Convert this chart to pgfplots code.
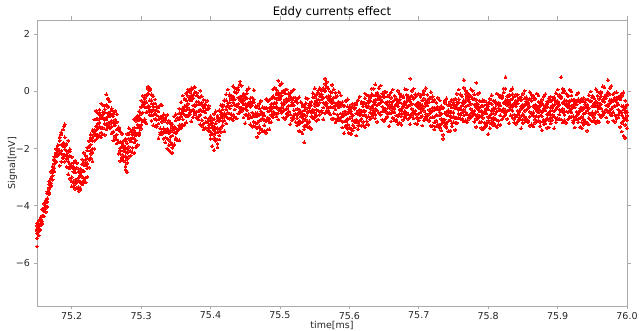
\documentclass[border=0pt]{standalone}
\usepackage{pgfplots}
\pgfplotsset{compat=1.18}
\usepackage{pgfplotstable}
\usepackage{fontspec}
\setmainfont{DejaVu Sans}
\definecolor{spine}{RGB}{170,170,170}

\pgfplotstableread{
x a b c d
75.1500 -4.81 -4.95 -4.69 -4.87
75.1525 -4.79 -4.62 -4.90 -4.71
75.1550 -4.48 -4.62 -4.68 -4.40
75.1575 -4.54 -4.34 -4.37 -4.62
75.1600 -4.18 -4.36 -4.09 -4.12
75.1625 -3.87 -3.81 -3.99 -4.07
75.1650 -3.73 -3.76 -3.51 -3.86
75.1675 -3.24 -3.52 -3.40 -3.36
75.1700 -3.20 -3.08 -3.03 -3.29
75.1725 -2.74 -2.62 -2.94 -2.84
75.1750 -2.68 -2.52 -2.40 -2.37
75.1775 -2.24 -2.15 -2.46 -2.19
75.1800 -2.11 -2.19 -2.01 -1.88
75.1825 -1.73 -2.16 -1.71 -2.18
75.1850 -2.18 -1.86 -2.08 -1.50
75.1875 -1.81 -2.32 -1.92 -2.21
75.1900 -2.02 -1.84 -2.22 -1.93
75.1925 -2.07 -2.36 -1.82 -2.20
75.1950 -2.44 -2.11 -2.66 -2.28
75.1975 -2.25 -2.53 -2.67 -2.09
75.2000 -2.99 -2.59 -2.64 -3.14
75.2025 -2.81 -3.17 -2.63 -2.70
75.2050 -2.83 -2.72 -3.09 -3.23
75.2075 -3.11 -3.17 -2.67 -3.36
75.2100 -2.79 -3.35 -3.11 -3.01
75.2125 -3.19 -2.95 -2.86 -3.38
75.2150 -2.78 -2.54 -3.17 -2.98
75.2175 -3.10 -2.79 -2.56 -2.49
75.2200 -2.58 -2.39 -3.02 -2.47
75.2225 -2.51 -2.68 -2.33 -2.06
75.2250 -1.93 -2.36 -1.91 -2.38
75.2275 -2.18 -1.86 -2.08 -1.50
75.2300 -1.61 -2.12 -1.72 -2.01
75.2325 -1.52 -1.34 -1.72 -1.43
75.2350 -1.22 -1.51 -0.97 -1.35
75.2375 -1.29 -0.96 -1.51 -1.13
75.2400 -0.80 -1.08 -1.22 -0.64
75.2425 -1.29 -0.89 -0.94 -1.44
75.2450 -0.91 -1.27 -0.73 -0.80
75.2475 -0.73 -0.62 -0.99 -1.13
75.2500 -0.91 -0.97 -0.47 -1.16
75.2525 -0.54 -1.10 -0.86 -0.76
75.2550 -1.09 -0.85 -0.76 -1.28
75.2575 -0.83 -0.59 -1.22 -1.03
75.2600 -1.40 -1.09 -0.86 -0.79
75.2625 -1.18 -0.99 -1.62 -1.07
75.2650 -1.51 -1.68 -1.33 -1.06
75.2675 -1.33 -1.76 -1.31 -1.78
75.2700 -2.08 -1.76 -1.98 -1.40
75.2725 -1.81 -2.32 -1.92 -2.21
75.2750 -2.07 -1.89 -2.27 -1.98
75.2775 -1.97 -2.26 -1.72 -2.10
75.2800 -2.14 -1.81 -2.36 -1.98
75.2825 -1.65 -1.93 -2.07 -1.49
75.2850 -2.09 -1.69 -1.74 -2.24
75.2875 -1.61 -1.97 -1.43 -1.50
75.2900 -1.38 -1.27 -1.64 -1.78
75.2925 -1.46 -1.52 -1.02 -1.71
75.2950 -0.94 -1.50 -1.26 -1.16
75.2975 -1.24 -1.00 -0.91 -1.43
75.3000 -0.78 -0.54 -1.17 -0.98
75.3025 -1.05 -0.74 -0.51 -0.44
75.3050 -0.53 -0.34 -0.97 -0.42
75.3075 -0.56 -0.73 -0.38 -0.11
75.3100 -0.08 -0.51 -0.06 -0.53
75.3125 -0.63 -0.31 -0.53 0.05
75.3150 -0.31 -0.82 -0.42 -0.71
75.3175 -0.62 -0.44 -0.82 -0.53
75.3200 -0.67 -0.96 -0.42 -0.80
75.3225 -0.99 -0.66 -1.21 -0.83
75.3250 -0.70 -0.98 -1.12 -0.54
75.3275 -1.29 -0.89 -0.94 -1.44
75.3300 -1.06 -1.42 -0.88 -0.95
75.3325 -1.03 -0.92 -1.29 -1.43
75.3350 -1.36 -1.42 -0.92 -1.61
75.3375 -1.09 -1.65 -1.41 -1.31
75.3400 -1.69 -1.45 -1.36 -1.88
75.3425 -1.38 -1.14 -1.77 -1.58
75.3450 -1.85 -1.54 -1.31 -1.24
75.3475 -1.43 -1.24 -1.87 -1.32
75.3500 -1.46 -1.63 -1.28 -1.01
75.3525 -0.93 -1.36 -0.91 -1.38
75.3550 -1.28 -0.96 -1.18 -0.60
75.3575 -0.76 -1.27 -0.87 -1.16
75.3600 -0.77 -0.59 -0.97 -0.68
75.3625 -0.52 -0.81 -0.27 -0.65
75.3650 -0.64 -0.31 -0.86 -0.48
75.3675 -0.15 -0.43 -0.57 0.01
75.3700 -0.64 -0.24 -0.29 -0.79
75.3725 -0.31 -0.67 -0.13 -0.20
75.3750 -0.23 -0.12 -0.49 -0.63
75.3775 -0.46 -0.52 -0.02 -0.71
75.3800 -0.14 -0.70 -0.46 -0.36
75.3825 -0.69 -0.45 -0.36 -0.88
75.3850 -0.43 -0.19 -0.82 -0.63
75.3875 -1.00 -0.69 -0.46 -0.39
75.3900 -0.68 -0.49 -1.12 -0.57
75.3925 -0.91 -1.08 -0.73 -0.46
75.3950 -0.63 -1.06 -0.61 -1.08
75.3975 -1.28 -0.96 -1.18 -0.60
75.4000 -1.01 -1.52 -1.12 -1.41
75.4025 -1.27 -1.09 -1.47 -1.18
75.4050 -1.22 -1.51 -0.97 -1.35
75.4075 -1.44 -1.11 -1.66 -1.28
75.4100 -1.00 -1.28 -1.42 -0.84
75.4125 -1.39 -0.99 -1.04 -1.54
75.4150 -0.91 -1.27 -0.73 -0.80
75.4175 -0.63 -0.52 -0.89 -1.03
75.4200 -0.76 -0.82 -0.32 -1.01
75.4225 -0.31 -0.87 -0.63 -0.53
75.4250 -0.74 -0.50 -0.41 -0.93
75.4275 -0.38 -0.14 -0.77 -0.58
75.4300 -0.80 -0.49 -0.26 -0.19
75.4325 -0.38 -0.19 -0.82 -0.27
75.4350 -0.46 -0.63 -0.28 -0.01
75.4375 -0.05 -0.48 -0.03 -0.50
75.4400 -0.53 -0.21 -0.43 0.15
75.4425 -0.18 -0.69 -0.29 -0.58
75.4450 -0.37 -0.19 -0.57 -0.28
75.4475 -0.32 -0.61 -0.07 -0.45
75.4500 -0.59 -0.26 -0.81 -0.43
75.4525 -0.23 -0.51 -0.65 -0.07
75.4550 -0.79 -0.39 -0.44 -0.94
75.4575 -0.54 -0.90 -0.36 -0.43
75.4600 -0.48 -0.37 -0.74 -0.88
75.4625 -0.81 -0.87 -0.37 -1.06
75.4650 -0.54 -1.10 -0.86 -0.76
75.4675 -1.09 -0.85 -0.76 -1.28
75.4700 -0.83 -0.59 -1.22 -1.03
75.4725 -1.30 -0.99 -0.76 -0.69
75.4750 -0.93 -0.74 -1.37 -0.82
75.4775 -1.01 -1.18 -0.83 -0.56
75.4800 -0.58 -1.01 -0.56 -1.03
75.4825 -1.01 -0.69 -0.91 -0.33
75.4850 -0.56 -1.07 -0.67 -0.96
75.4875 -0.62 -0.44 -0.82 -0.53
75.4900 -0.42 -0.71 -0.17 -0.55
75.4925 -0.56 -0.23 -0.78 -0.40
75.4950 -0.10 -0.38 -0.52 0.06
75.4975 -0.61 -0.21 -0.26 -0.76
75.5000 -0.26 -0.62 -0.08 -0.15
75.5025 -0.15 -0.04 -0.41 -0.55
75.5050 -0.41 -0.47 0.03 -0.66
75.5075 -0.07 -0.63 -0.39 -0.29
75.5100 -0.59 -0.35 -0.26 -0.78
75.5125 -0.30 -0.06 -0.69 -0.50
75.5150 -0.80 -0.49 -0.26 -0.19
75.5175 -0.48 -0.29 -0.92 -0.37
75.5200 -0.66 -0.83 -0.48 -0.21
75.5225 -0.35 -0.78 -0.33 -0.80
75.5250 -0.93 -0.61 -0.83 -0.25
75.5275 -0.64 -1.15 -0.75 -1.04
75.5300 -0.87 -0.69 -1.07 -0.78
75.5325 -0.77 -1.06 -0.52 -0.90
75.5350 -0.99 -0.66 -1.21 -0.83
75.5375 -0.57 -0.85 -0.99 -0.41
75.5400 -1.09 -0.69 -0.74 -1.24
75.5425 -0.68 -1.04 -0.50 -0.57
75.5450 -0.48 -0.37 -0.74 -0.88
75.5475 -0.64 -0.70 -0.20 -0.89
75.5500 -0.19 -0.75 -0.51 -0.41
75.5525 -0.64 -0.40 -0.31 -0.83
75.5550 -0.28 -0.04 -0.67 -0.48
75.5575 -0.70 -0.39 -0.16 -0.09
75.5600 -0.28 -0.09 -0.72 -0.17
75.5625 -0.39 -0.56 -0.21 0.06
75.5650 0.02 -0.41 0.04 -0.43
75.5675 -0.51 -0.19 -0.41 0.17
75.5700 -0.16 -0.67 -0.27 -0.56
75.5725 -0.34 -0.16 -0.54 -0.25
75.5750 -0.27 -0.56 -0.02 -0.40
75.5775 -0.54 -0.21 -0.76 -0.38
75.5800 -0.20 -0.48 -0.62 -0.04
75.5825 -0.81 -0.41 -0.46 -0.96
75.5850 -0.56 -0.92 -0.38 -0.45
75.5875 -0.51 -0.40 -0.77 -0.91
75.5900 -0.81 -0.87 -0.37 -1.06
75.5925 -0.49 -1.05 -0.81 -0.71
75.5950 -1.04 -0.80 -0.71 -1.23
75.5975 -0.76 -0.52 -1.15 -0.96
75.6000 -1.25 -0.94 -0.71 -0.64
75.6025 -0.88 -0.69 -1.32 -0.77
75.6050 -1.01 -1.18 -0.83 -0.56
75.6075 -0.61 -1.04 -0.59 -1.06
75.6100 -1.08 -0.76 -0.98 -0.40
75.6125 -0.68 -1.19 -0.79 -1.08
75.6150 -0.82 -0.64 -1.02 -0.73
75.6175 -0.67 -0.96 -0.42 -0.80
75.6200 -0.84 -0.51 -1.06 -0.68
75.6225 -0.40 -0.68 -0.82 -0.24
75.6250 -0.89 -0.49 -0.54 -1.04
75.6275 -0.51 -0.87 -0.33 -0.40
75.6300 -0.33 -0.22 -0.59 -0.73
75.6325 -0.54 -0.60 -0.10 -0.79
75.6350 -0.14 -0.70 -0.46 -0.36
75.6375 -0.61 -0.37 -0.28 -0.80
75.6400 -0.28 -0.04 -0.67 -0.48
75.6425 -0.75 -0.44 -0.21 -0.14
75.6450 -0.38 -0.19 -0.82 -0.27
75.6475 -0.53 -0.70 -0.35 -0.08
75.6500 -0.18 -0.61 -0.16 -0.63
75.6525 -0.71 -0.39 -0.61 -0.03
75.6550 -0.36 -0.87 -0.47 -0.76
75.6575 -0.54 -0.36 -0.74 -0.45
75.6600 -0.47 -0.76 -0.22 -0.60
75.6625 -0.69 -0.36 -0.91 -0.53
75.6650 -0.30 -0.58 -0.72 -0.14
75.6675 -0.84 -0.44 -0.49 -0.99
75.6700 -0.51 -0.87 -0.33 -0.40
75.6725 -0.38 -0.27 -0.64 -0.78
75.6750 -0.61 -0.67 -0.17 -0.86
75.6775 -0.21 -0.77 -0.53 -0.43
75.6800 -0.69 -0.45 -0.36 -0.88
75.6825 -0.36 -0.12 -0.75 -0.56
75.6850 -0.80 -0.49 -0.26 -0.19
75.6875 -0.46 -0.27 -0.90 -0.35
75.6900 -0.61 -0.78 -0.43 -0.16
75.6925 -0.25 -0.68 -0.23 -0.70
75.6950 -0.78 -0.46 -0.68 -0.10
75.6975 -0.41 -0.92 -0.52 -0.81
75.7000 -0.57 -0.39 -0.77 -0.48
75.7025 -0.44 -0.73 -0.19 -0.57
75.7050 -0.64 -0.31 -0.86 -0.48
75.7075 -0.25 -0.53 -0.67 -0.09
75.7100 -0.79 -0.39 -0.44 -0.94
75.7125 -0.48 -0.84 -0.30 -0.37
75.7150 -0.38 -0.27 -0.64 -0.78
75.7175 -0.66 -0.72 -0.22 -0.91
75.7200 -0.34 -0.90 -0.66 -0.56
75.7225 -0.89 -0.65 -0.56 -1.08
75.7250 -0.63 -0.39 -1.02 -0.83
75.7275 -1.15 -0.84 -0.61 -0.54
75.7300 -0.83 -0.64 -1.27 -0.72
75.7325 -0.96 -1.13 -0.78 -0.51
75.7350 -0.58 -1.01 -0.56 -1.03
75.7375 -1.08 -0.76 -0.98 -0.40
75.7400 -0.71 -1.22 -0.82 -1.11
75.7425 -0.84 -0.66 -1.04 -0.75
75.7450 -0.72 -1.01 -0.47 -0.85
75.7475 -0.89 -0.56 -1.11 -0.73
75.7500 -0.45 -0.73 -0.87 -0.29
75.7525 -0.94 -0.54 -0.59 -1.09
75.7550 -0.56 -0.92 -0.38 -0.45
75.7575 -0.38 -0.27 -0.64 -0.78
75.7600 -0.56 -0.62 -0.12 -0.81
75.7625 -0.17 -0.73 -0.49 -0.39
75.7650 -0.64 -0.40 -0.31 -0.83
75.7675 -0.33 -0.09 -0.72 -0.53
75.7700 -0.80 -0.49 -0.26 -0.19
75.7725 -0.46 -0.27 -0.90 -0.35
75.7750 -0.61 -0.78 -0.43 -0.16
75.7775 -0.25 -0.68 -0.23 -0.70
75.7800 -0.78 -0.46 -0.68 -0.10
75.7825 -0.44 -0.95 -0.55 -0.84
75.7850 -0.62 -0.44 -0.82 -0.53
75.7875 -0.57 -0.86 -0.32 -0.70
75.7900 -0.84 -0.51 -1.06 -0.68
75.7925 -0.50 -0.78 -0.92 -0.34
75.7950 -1.09 -0.69 -0.74 -1.24
75.7975 -0.76 -1.12 -0.58 -0.65
75.8000 -0.63 -0.52 -0.89 -1.03
75.8025 -0.84 -0.90 -0.40 -1.09
75.8050 -0.44 -1.00 -0.76 -0.66
75.8075 -0.91 -0.67 -0.58 -1.10
75.8100 -0.58 -0.34 -0.97 -0.78
75.8125 -1.00 -0.69 -0.46 -0.39
75.8150 -0.58 -0.39 -1.02 -0.47
75.8175 -0.66 -0.83 -0.48 -0.21
75.8200 -0.23 -0.66 -0.21 -0.68
75.8225 -0.71 -0.39 -0.61 -0.03
75.8250 -0.31 -0.82 -0.42 -0.71
75.8275 -0.47 -0.29 -0.67 -0.38
75.8300 -0.37 -0.66 -0.12 -0.50
75.8325 -0.62 -0.29 -0.84 -0.46
75.8350 -0.25 -0.53 -0.67 -0.09
75.8375 -0.81 -0.41 -0.46 -0.96
75.8400 -0.51 -0.87 -0.33 -0.40
75.8425 -0.41 -0.30 -0.67 -0.81
75.8450 -0.66 -0.72 -0.22 -0.91
75.8475 -0.29 -0.85 -0.61 -0.51
75.8500 -0.79 -0.55 -0.46 -0.98
75.8525 -0.48 -0.24 -0.87 -0.68
75.8550 -0.95 -0.64 -0.41 -0.34
75.8575 -0.58 -0.39 -1.02 -0.47
75.8600 -0.71 -0.88 -0.53 -0.26
75.8625 -0.33 -0.76 -0.31 -0.78
75.8650 -0.83 -0.51 -0.73 -0.15
75.8675 -0.48 -0.99 -0.59 -0.88
75.8700 -0.67 -0.49 -0.87 -0.58
75.8725 -0.60 -0.89 -0.35 -0.73
75.8750 -0.84 -0.51 -1.06 -0.68
75.8775 -0.45 -0.73 -0.87 -0.29
75.8800 -0.99 -0.59 -0.64 -1.14
75.8825 -0.66 -1.02 -0.48 -0.55
75.8850 -0.53 -0.42 -0.79 -0.93
75.8875 -0.74 -0.80 -0.30 -0.99
75.8900 -0.34 -0.90 -0.66 -0.56
75.8925 -0.81 -0.57 -0.48 -1.00
75.8950 -0.48 -0.24 -0.87 -0.68
75.8975 -0.93 -0.62 -0.39 -0.32
75.9000 -0.53 -0.34 -0.97 -0.42
75.9025 -0.63 -0.80 -0.45 -0.18
75.9050 -0.23 -0.66 -0.21 -0.68
75.9075 -0.71 -0.39 -0.61 -0.03
75.9100 -0.31 -0.82 -0.42 -0.71
75.9125 -0.50 -0.32 -0.70 -0.41
75.9150 -0.42 -0.71 -0.17 -0.55
75.9175 -0.66 -0.33 -0.88 -0.50
75.9200 -0.30 -0.58 -0.72 -0.14
75.9225 -0.87 -0.47 -0.52 -1.02
75.9250 -0.56 -0.92 -0.38 -0.45
75.9275 -0.45 -0.34 -0.71 -0.85
75.9300 -0.71 -0.77 -0.27 -0.96
75.9325 -0.37 -0.93 -0.69 -0.59
75.9350 -0.89 -0.65 -0.56 -1.08
75.9375 -0.58 -0.34 -0.97 -0.78
75.9400 -1.05 -0.74 -0.51 -0.44
75.9425 -0.66 -0.47 -1.10 -0.55
75.9450 -0.76 -0.93 -0.58 -0.31
75.9475 -0.35 -0.78 -0.33 -0.80
75.9500 -0.83 -0.51 -0.73 -0.15
75.9525 -0.41 -0.92 -0.52 -0.81
75.9550 -0.52 -0.34 -0.72 -0.43
75.9575 -0.40 -0.69 -0.15 -0.53
75.9600 -0.59 -0.26 -0.81 -0.43
75.9625 -0.17 -0.45 -0.59 -0.01
75.9650 -0.69 -0.29 -0.34 -0.84
75.9675 -0.36 -0.72 -0.18 -0.25
75.9700 -0.23 -0.12 -0.49 -0.63
75.9725 -0.46 -0.52 -0.02 -0.71
75.9750 -0.09 -0.65 -0.41 -0.31
75.9775 -0.61 -0.37 -0.28 -0.80
75.9800 -0.33 -0.09 -0.72 -0.53
75.9825 -0.83 -0.52 -0.29 -0.22
75.9850 -0.48 -0.29 -0.92 -0.37
75.9875 -0.63 -0.80 -0.45 -0.18
75.9900 -0.28 -0.71 -0.26 -0.73
75.9925 -0.83 -0.51 -0.73 -0.15
75.9950 -0.51 -1.02 -0.62 -0.91
75.9975 -0.74 -0.56 -0.94 -0.65
76.0000 -0.72 -1.01 -0.47 -0.85
}\sig

\pgfplotstableread{
x e f
75.1500 -4.61 -5.13
75.1525 -5.03 -4.52
75.1550 -4.42 -4.84
75.1575 -4.60 -4.11
75.1600 -3.92 -4.36
75.1625 -4.21 -3.81
75.1650 -3.56 -4.03
75.1675 -3.58 -3.14
75.1700 -2.80 -3.31
75.1725 -3.08 -2.62
75.1750 -2.28 -2.79
75.1775 -2.48 -2.01
75.1800 -1.89 -2.24
75.1825 -2.59 -1.60
75.1850 -1.43 -2.45
75.1875 -2.33 -1.33
75.1900 -1.60 -2.45
75.1925 -2.63 -1.84
75.1950 -1.72 -2.90
75.1975 -2.02 -3.05
75.2000 -3.32 -2.29
75.2025 -2.49 -3.32
75.2050 -3.40 -2.42
75.2075 -2.50 -3.38
75.2100 -3.48 -2.81
75.2125 -2.71 -3.42
75.2150 -3.25 -2.38
75.2175 -2.14 -3.17
75.2200 -3.17 -2.25
75.2225 -1.96 -2.98
75.2250 -2.66 -1.73
75.2275 -1.62 -2.33
75.2300 -2.44 -1.35
75.2325 -0.98 -2.00
75.2350 -1.68 -0.68
75.2375 -0.75 -1.60
75.2400 -1.53 -0.74
75.2425 -0.42 -1.60
75.2450 -0.47 -1.50
75.2475 -1.52 -0.49
75.2500 -0.49 -1.32
75.2525 -1.25 -0.27
75.2550 -0.35 -1.23
75.2575 -1.46 -0.66
75.2600 -0.76 -1.71
75.2625 -1.55 -0.68
75.2650 -0.79 -1.82
75.2675 -2.17 -1.25
75.2700 -1.41 -2.43
75.2725 -2.41 -1.48
75.2750 -1.72 -2.43
75.2775 -2.74 -1.65
75.2800 -1.48 -2.50
75.2825 -2.28 -1.28
75.2850 -1.40 -2.25
75.2875 -2.13 -1.34
75.2900 -0.97 -2.15
75.2925 -0.92 -1.95
75.2950 -1.87 -0.84
75.2975 -0.69 -1.52
75.3000 -1.30 -0.32
75.3025 -0.15 -1.03
75.3050 -1.06 -0.26
75.3075 -0.16 -1.11
75.3100 -0.70 0.17
75.3125 0.12 -0.82
75.3150 -1.02 -0.10
75.3175 -0.16 -1.18
75.3200 -1.21 -0.28
75.3225 -0.52 -1.23
75.3250 -1.64 -0.55
75.3275 -0.48 -1.50
75.3300 -1.48 -0.48
75.3325 -0.80 -1.65
75.3350 -1.78 -0.99
75.3375 -0.82 -2.00
75.3400 -1.02 -2.05
75.3425 -2.12 -1.09
75.3450 -1.14 -1.97
75.3475 -1.85 -0.87
75.3500 -0.80 -1.68
75.3525 -1.71 -0.91
75.3550 -0.76 -1.71
75.3575 -1.25 -0.38
75.3600 -0.14 -1.17
75.3625 -1.17 -0.25
75.3650 -0.06 -1.08
75.3675 -0.86 0.07
75.3700 -0.02 -0.73
75.3725 -1.04 0.05
75.3750 0.12 -0.90
75.3775 -0.78 0.15
75.3800 -0.05 -0.90
75.3825 -0.98 -0.19
75.3850 0.03 -1.15
75.3875 -0.17 -1.20
75.3900 -1.32 -0.29
75.3925 -0.44 -1.27
75.3950 -1.30 -0.32
75.3975 -0.50 -1.38
75.4000 -1.66 -0.86
75.4025 -0.96 -1.91
75.4050 -1.65 -0.78
75.4075 -0.69 -1.72
75.4100 -1.82 -0.90
75.4125 -0.66 -1.68
75.4150 -1.41 -0.48
75.4175 -0.47 -1.18
75.4200 -1.39 -0.30
75.4225 -0.10 -1.12
75.4250 -0.93 0.07
75.4275 -0.10 -0.95
75.4300 -0.93 -0.14
75.4325 0.18 -1.00
75.4350 0.13 -0.90
75.4375 -0.94 0.09
75.4400 0.06 -0.77
75.4425 -0.72 0.26
75.4450 0.20 -0.68
75.4475 -0.91 -0.11
75.4500 -0.16 -1.11
75.4525 -0.83 0.04
75.4550 0.11 -0.92
75.4575 -1.15 -0.23
75.4600 -0.21 -1.23
75.4625 -1.21 -0.28
75.4650 -0.52 -1.23
75.4675 -1.59 -0.50
75.4700 -0.43 -1.45
75.4725 -1.33 -0.33
75.4750 -0.55 -1.40
75.4775 -1.38 -0.59
75.4800 -0.27 -1.45
75.4825 -0.30 -1.33
75.4850 -1.32 -0.29
75.4875 -0.24 -1.07
75.4900 -0.90 0.08
75.4925 0.13 -0.75
75.4950 -0.86 -0.06
75.4975 -0.03 -0.98
75.5000 -0.65 0.22
75.5025 0.29 -0.74
75.5050 -0.92 0.00
75.5075 0.06 -0.96
75.5100 -0.86 0.07
75.5125 -0.09 -0.80
75.5150 -1.14 -0.05
75.5175 0.02 -1.00
75.5200 -0.93 0.07
75.5225 -0.22 -1.07
75.5250 -1.18 -0.39
75.5275 -0.20 -1.38
75.5300 -0.37 -1.40
75.5325 -1.47 -0.44
75.5350 -0.49 -1.32
75.5375 -1.22 -0.24
75.5400 -0.25 -1.13
75.5425 -1.23 -0.43
75.5450 -0.36 -1.31
75.5475 -0.93 -0.06
75.5500 0.11 -0.92
75.5525 -1.02 -0.10
75.5550 0.04 -0.98
75.5575 -0.81 0.12
75.5600 0.03 -0.68
75.5625 -0.97 0.12
75.5650 0.27 -0.75
75.5675 -0.66 0.34
75.5700 0.10 -0.75
75.5725 -0.80 -0.01
75.5750 0.23 -0.95
75.5775 0.08 -0.95
75.5800 -1.07 -0.04
75.5825 -0.16 -0.99
75.5850 -1.00 -0.02
75.5875 -0.13 -1.01
75.5900 -1.26 -0.46
75.5925 -0.51 -1.46
75.5950 -1.20 -0.33
75.5975 -0.27 -1.30
75.6000 -1.47 -0.55
75.6025 -0.46 -1.48
75.6050 -1.36 -0.43
75.6075 -0.55 -1.26
75.6100 -1.54 -0.45
75.6125 -0.30 -1.32
75.6150 -1.18 -0.18
75.6175 -0.35 -1.20
75.6200 -1.18 -0.39
75.6225 -0.07 -1.25
75.6250 -0.12 -1.15
75.6275 -1.17 -0.14
75.6300 -0.14 -0.97
75.6325 -0.88 0.10
75.6350 0.10 -0.78
75.6375 -0.93 -0.13
75.6400 -0.11 -1.06
75.6425 -0.75 0.12
75.6450 0.21 -0.82
75.6475 -0.99 -0.07
75.6500 -0.01 -1.03
75.6525 -0.94 -0.01
75.6550 -0.17 -0.88
75.6575 -1.21 -0.12
75.6600 -0.03 -1.05
75.6625 -0.93 0.07
75.6650 -0.15 -1.00
75.6675 -1.03 -0.24
75.6700 0.03 -1.15
75.6725 -0.07 -1.10
75.6750 -1.17 -0.14
75.6775 -0.16 -0.99
75.6800 -0.90 0.08
75.6825 0.07 -0.81
75.6850 -0.96 -0.16
75.6875 -0.19 -1.14
75.6900 -0.85 0.02
75.6925 0.09 -0.94
75.6950 -1.12 -0.20
75.6975 -0.11 -1.13
75.7000 -1.01 -0.08
75.7025 -0.19 -0.90
75.7050 -1.19 -0.10
75.7075 0.02 -1.00
75.7100 -0.88 0.12
75.7125 -0.12 -0.97
75.7150 -1.03 -0.24
75.7175 -0.02 -1.20
75.7200 -0.17 -1.20
75.7225 -1.32 -0.29
75.7250 -0.39 -1.22
75.7275 -1.20 -0.22
75.7300 -0.30 -1.18
75.7325 -1.36 -0.56
75.7350 -0.56 -1.51
75.7375 -1.20 -0.33
75.7400 -0.24 -1.27
75.7425 -1.39 -0.47
75.7450 -0.36 -1.38
75.7475 -1.21 -0.28
75.7500 -0.37 -1.08
75.7525 -1.34 -0.25
75.7550 -0.08 -1.10
75.7575 -0.93 0.07
75.7600 -0.10 -0.95
75.7625 -0.96 -0.17
75.7650 0.13 -1.05
75.7675 0.03 -1.00
75.7700 -1.07 -0.04
75.7725 -0.12 -0.95
75.7750 -0.90 0.08
75.7775 0.03 -0.85
75.7800 -1.06 -0.26
75.7825 -0.29 -1.24
75.7850 -0.95 -0.08
75.7875 -0.04 -1.07
75.7900 -1.27 -0.35
75.7925 -0.31 -1.33
75.7950 -1.26 -0.33
75.7975 -0.47 -1.18
75.8000 -1.49 -0.40
75.8025 -0.26 -1.28
75.8050 -1.13 -0.13
75.8075 -0.32 -1.17
75.8100 -1.18 -0.39
75.8125 -0.07 -1.25
75.8150 -0.12 -1.15
75.8175 -1.17 -0.14
75.8200 -0.14 -0.97
75.8225 -0.88 0.10
75.8250 0.10 -0.78
75.8275 -0.96 -0.16
75.8300 -0.16 -1.11
75.8325 -0.83 0.04
75.8350 0.11 -0.92
75.8375 -1.09 -0.17
75.8400 -0.11 -1.13
75.8425 -1.04 -0.11
75.8450 -0.27 -0.98
75.8475 -1.29 -0.20
75.8500 -0.08 -1.10
75.8525 -0.98 0.02
75.8550 -0.20 -1.05
75.8575 -1.08 -0.29
75.8600 -0.02 -1.20
75.8625 -0.12 -1.15
75.8650 -1.22 -0.19
75.8675 -0.26 -1.09
75.8700 -1.05 -0.07
75.8725 -0.13 -1.01
75.8750 -1.21 -0.41
75.8775 -0.41 -1.36
75.8800 -1.05 -0.18
75.8825 -0.09 -1.12
75.8850 -1.27 -0.35
75.8875 -0.24 -1.26
75.8900 -1.11 -0.18
75.8925 -0.29 -1.00
75.8950 -1.29 -0.20
75.8975 -0.06 -1.08
75.9000 -0.93 0.07
75.9025 -0.12 -0.97
75.9050 -0.98 -0.19
75.9075 0.10 -1.08
75.9100 0.03 -1.00
75.9125 -1.10 -0.07
75.9150 -0.14 -0.97
75.9175 -0.92 0.06
75.9200 0.00 -0.88
75.9225 -1.09 -0.29
75.9250 -0.31 -1.26
75.9275 -0.97 -0.10
75.9300 -0.04 -1.07
75.9325 -1.25 -0.33
75.9350 -0.26 -1.28
75.9375 -1.16 -0.23
75.9400 -0.37 -1.08
75.9425 -1.37 -0.28
75.9450 -0.13 -1.15
75.9475 -1.00 0.00
75.9500 -0.20 -1.05
75.9525 -1.03 -0.24
75.9550 0.08 -1.10
75.9575 0.00 -1.03
75.9600 -1.07 -0.04
75.9625 -0.06 -0.89
75.9650 -0.80 0.18
75.9675 0.15 -0.73
75.9700 -0.91 -0.11
75.9725 -0.11 -1.06
75.9750 -0.75 0.12
75.9775 0.19 -0.84
75.9800 -1.02 -0.10
75.9825 -0.04 -1.06
75.9850 -0.96 -0.03
75.9875 -0.19 -0.90
75.9900 -1.24 -0.15
75.9925 -0.08 -1.10
75.9950 -1.03 -0.03
75.9975 -0.32 -1.17
76.0000 -1.28 -0.49
}\sigb

\begin{document}
\begin{tikzpicture}
\begin{axis}[
  name=ax,
  scale only axis,
  width=590bp, height=286bp,
  xmin=75.15, xmax=76.0, ymin=-7.5, ymax=2.5,
  xtick={75.2,75.3,75.4,75.5,75.6,75.7,75.8,75.9,76.0},
  xticklabels={75.2,75.3,75.4,75.5,75.6,75.7,75.8,75.9,76.0},
  ytick={-6,-4,-2,0,2},
  yticklabels={−6,−4,−2,0,2},
  axis line style={spine, line width=0.8bp},
  tick align=outside,
  major tick length=3.5bp,
  tick style={spine, line width=0.8bp},
  ticklabel style={font=\fontsize{9.5bp}{11bp}\selectfont, text=black!85},
  xticklabel style={yshift=1bp},
  title={Eddy currents effect},
  title style={font=\fontsize{11.7bp}{14bp}\selectfont, at={(0.5,1)}, anchor=base, yshift=-1.5bp},
  xlabel={time[ms]},
  ylabel={Signal[mV]},
  label style={font=\fontsize{9.5bp}{11bp}\selectfont, text=black!85},
  xlabel style={yshift=5bp},
  ylabel style={yshift=-8bp},
  pt/.style={only marks, mark=*, mark size=1.45bp, color=red, mark options={fill=red, draw=red, line width=0pt}},
]
\addplot[pt] table[x=x, y=a] {\sig};
\addplot[pt] table[x=x, y=b] {\sig};
\addplot[pt] table[x=x, y=c] {\sig};
\addplot[pt] table[x=x, y=d] {\sig};
\addplot[pt] table[x=x, y=e] {\sigb};
\addplot[pt] table[x=x, y=f] {\sigb};
\addplot[pt] coordinates {
(75.1500,-5.42) (75.1900,-1.15) (75.1890,-1.22) (75.2800,-2.82) (75.2775,-2.62)
(75.3450,-2.15) (75.4050,-2.05) (75.4100,-1.95) (75.3100,0.10) (75.3125,0.08)
(75.2500,-0.10) (75.2520,-0.25) (75.4425,0.35) (75.4975,0.38) (75.5350,-1.78)
(75.5650,0.45) (75.6875,0.45) (75.7350,-1.65) (75.7650,0.40) (75.8250,0.50)
(75.9050,0.50) (75.9725,0.40) (75.9950,-1.55) (75.9975,-1.62) (75.9925,-1.40)
(75.4625,0.05) (75.6375,0.25) (75.3725,0.12) (75.5990,-1.45) (75.7830,0.30)
}; 
\end{axis}
\pgfresetboundingbox
\path ([xshift=-37bp,yshift=-25bp]ax.south west) rectangle ([xshift=12bp,yshift=20bp]ax.north east);
\end{tikzpicture}
\end{document}
